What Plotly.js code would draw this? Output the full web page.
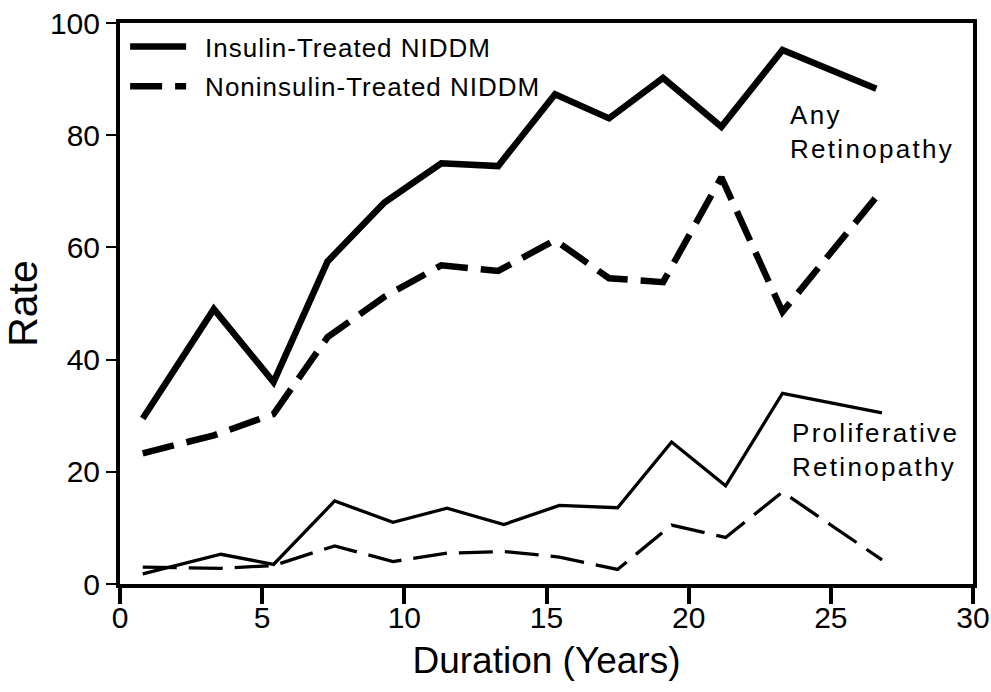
<!DOCTYPE html>
<html><head><meta charset="utf-8">
<script src="https://cdn.plot.ly/plotly-3.0.1.min.js"></script>
<style>
html,body{margin:0;padding:0;background:#fff}
#chart{width:991px;height:692px}
.annotation-text{letter-spacing:2.3px}
.legendtext{letter-spacing:1px; transform: translateX(14px)}
.legend .scrollbox{clip-path:none !important}
</style></head><body><div id="chart"></div>
<script>
// Duration (years) at which each series is plotted
const anyX  = [0.8, 3.3, 5.4, 7.3, 9.3, 11.3, 13.3, 15.3, 17.2, 19.1, 21.15, 23.3, 26.6];
const profX = [0.8, 3.55, 5.4, 7.55, 9.6, 11.5, 13.5, 15.45, 17.5, 19.4, 21.3, 23.3, 26.8];

// Any retinopathy rates
const anyInsulin    = [29.5, 49, 36, 57.5, 68, 75, 74.5, 87.3, 83, 90.2, 81.5, 95.2, 88.3];
const anyNonInsulin = [23.3, 26.5, 30.3, 44, 51.2, 56.8, 55.8, 61.3, 54.5, 53.8, 72.5, 48.5, 69];

// Proliferative retinopathy rates
const profInsulin    = [1.8, 5.3, 3.5, 14.8, 11, 13.5, 10.6, 14, 13.6, 25.3, 17.5, 34, 30.5];
const profNonInsulin = [3.0, 2.8, 3.3, 6.8, 4.0, 5.5, 5.8, 4.8, 2.6, 10.5, 8.3, 16.4, 4.3];

const seriesNames = ['Insulin-Treated NIDDM', 'Noninsulin-Treated NIDDM'];
const groupLabels = ['Any<br>Retinopathy', 'Proliferative<br>Retinopathy'];
const xTicks = [0, 5, 10, 15, 20, 25, 30];
const yTicks = [0, 20, 40, 60, 80, 100];

const FONT = 'Liberation Sans, Arial, Helvetica, sans-serif';
const thickDash = '32px,13px';
const thinDash = '34px,12px';

const traces = [
  {x: anyX, y: anyInsulin, name: seriesNames[0], mode: 'lines', legendgroup: 'a',
   line: {color: '#000', width: 6.5}},
  {x: anyX, y: anyNonInsulin, name: seriesNames[1], mode: 'lines', legendgroup: 'b',
   line: {color: '#000', width: 6.5, dash: thickDash}},
  {x: profX, y: profInsulin, name: seriesNames[0], mode: 'lines', legendgroup: 'a', showlegend: false,
   line: {color: '#000', width: 3.3}},
  {x: profX, y: profNonInsulin, name: seriesNames[1], mode: 'lines', legendgroup: 'b', showlegend: false,
   line: {color: '#000', width: 3.3, dash: thinDash}}
];

const layout = {
  width: 991, height: 692,
  margin: {l: 120, r: 18, t: 23, b: 108},
  paper_bgcolor: '#fff', plot_bgcolor: '#fff',
  font: {family: FONT, color: '#000'},
  showlegend: true,
  legend: {x: 0.006, y: 1, xanchor: 'left', yanchor: 'top', bgcolor: 'rgba(0,0,0,0)',
           font: {size: 26, family: FONT, color: '#000'}, itemwidth: 56,
           traceorder: 'grouped', tracegroupgap: 3},
  xaxis: {range: [0, 30], tickvals: xTicks, ticktext: xTicks.map(String),
          ticks: 'outside', ticklen: 16, tickwidth: 4, tickcolor: '#000',
          ticklabelstandoff: -12,
          showline: true, linewidth: 4, linecolor: '#000', mirror: true,
          showgrid: false, zeroline: false,
          tickfont: {size: 30, family: FONT},
          title: {text: 'Duration (Years)', font: {size: 37, family: FONT}, standoff: 15}},
  yaxis: {range: [0, 100], tickvals: yTicks, ticktext: yTicks.map(String),
          ticks: 'outside', ticklen: 10, tickwidth: 2, tickcolor: '#000',
          showline: true, linewidth: 4, linecolor: '#000', mirror: true,
          showgrid: false, zeroline: false,
          tickfont: {size: 30, family: FONT},
          title: {text: 'Rate', font: {size: 41, family: FONT}, standoff: 8}},
  annotations: [
    {x: 23.5, y: 80.5, xref: 'x', yref: 'y', text: groupLabels[0], showarrow: false,
     xanchor: 'left', yanchor: 'middle', align: 'left', font: {size: 26, family: FONT}},
    {x: 23.55, y: 23.9, xref: 'x', yref: 'y', text: groupLabels[1], showarrow: false,
     xanchor: 'left', yanchor: 'middle', align: 'left', font: {size: 26, family: FONT}}
  ]
};

Plotly.newPlot('chart', traces, layout, {staticPlot: true, displayModeBar: false});
</script>
</body></html>
